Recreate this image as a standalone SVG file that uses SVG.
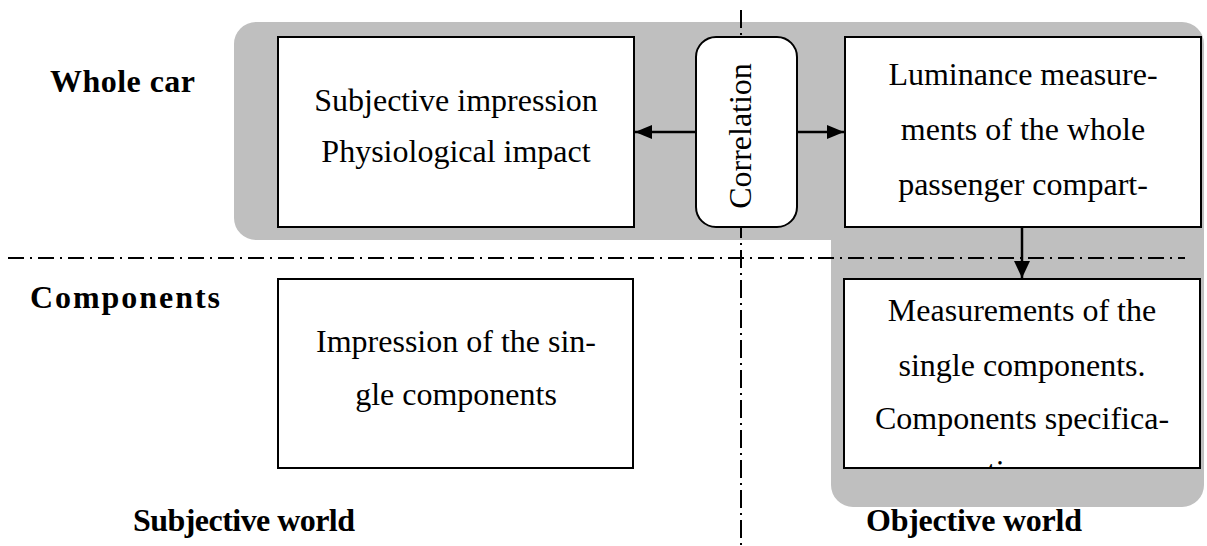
<svg xmlns="http://www.w3.org/2000/svg" width="1207" height="546" viewBox="0 0 1207 546">
<style>
.box{fill:#fff;stroke:#000;stroke-width:2}
.t{font-family:"Liberation Serif",serif;font-size:32px;fill:#000;text-anchor:middle}
.lbl{font-family:"Liberation Serif",serif;font-size:32px;font-weight:bold;fill:#000}
.dd{stroke:#000;stroke-width:2;fill:none}
.con{stroke:#000;stroke-width:2.5;fill:none}
</style>
<defs>
<marker id="ah" markerUnits="userSpaceOnUse" markerWidth="18" markerHeight="14" refX="17" refY="7" orient="auto">
<path d="M0,0 L17,7 L0,14 Z" fill="#000"/>
</marker>
<marker id="ahd" markerUnits="userSpaceOnUse" markerWidth="18" markerHeight="16" refX="17" refY="8" orient="auto">
<path d="M0,0 L17,8 L0,16 Z" fill="#000"/>
</marker>
<clipPath id="clipLum"><rect x="846" y="38" width="354" height="188"/></clipPath>
<clipPath id="clipMeas"><rect x="845" y="280" width="354" height="187"/></clipPath>
</defs>
<path id="gray" d="M256 22 H1182 A22 22 0 0 1 1204 44 V485 A22 22 0 0 1 1182 507 H853 A22 22 0 0 1 831 485 V240 H256 A22 22 0 0 1 234 218 V44 A22 22 0 0 1 256 22 Z" fill="#bfbfbf"/>
<g id="axes">
<line class="dd" x1="741" y1="10" x2="741" y2="546" stroke-dasharray="18 5 2 5"/>
<line class="dd" x1="8" y1="258" x2="1185" y2="258" stroke-dasharray="16 6 2 6"/>
</g>
<g id="node-subjective">
<rect class="box" x="278" y="37" width="356" height="190"/>
<text class="t" x="456" y="111">Subjective impression</text>
<text class="t" x="456" y="162">Physiological impact</text>
</g>
<g id="node-correlation">
<rect class="box" x="696" y="37" width="101" height="190" rx="20" ry="20"/>
<text class="t" transform="translate(751,136) rotate(-90)">Correlation</text>
</g>
<g id="node-luminance">
<rect class="box" x="845" y="37" width="356" height="190"/>
<g clip-path="url(#clipLum)">
<text class="t" x="1023" y="85">Luminance measure-</text>
<text class="t" x="1023" y="140">ments of the whole</text>
<text class="t" x="1023" y="195">passenger compart-</text>
<text class="t" x="1023" y="245">ment.</text>
</g>
</g>
<g id="node-impression">
<rect class="box" x="278" y="279" width="355" height="189"/>
<text class="t" x="456" y="352">Impression of the sin-</text>
<text class="t" x="456" y="405">gle components</text>
</g>
<g id="node-measurements">
<rect class="box" x="844" y="279" width="356" height="189"/>
<g clip-path="url(#clipMeas)">
<text class="t" x="1022" y="321">Measurements of the</text>
<text class="t" x="1022" y="376">single components.</text>
<text class="t" x="1022" y="429">Components specifica-</text>
<text class="t" x="1022" y="482">tions.</text>
</g>
</g>
<g id="connectors">
<line class="con" x1="696" y1="132" x2="635" y2="132" marker-end="url(#ah)"/>
<line class="con" x1="797" y1="132" x2="844" y2="132" marker-end="url(#ah)"/>
<line class="con" x1="1022" y1="227" x2="1022" y2="278" marker-end="url(#ahd)"/>
</g>
<g id="labels">
<text class="lbl" x="50" y="92" textLength="145">Whole car</text>
<text class="lbl" x="30" y="308" textLength="190">Components</text>
<text class="lbl" x="133" y="531" textLength="222">Subjective world</text>
<text class="lbl" x="866" y="531" textLength="216">Objective world</text>
</g>
</svg>
